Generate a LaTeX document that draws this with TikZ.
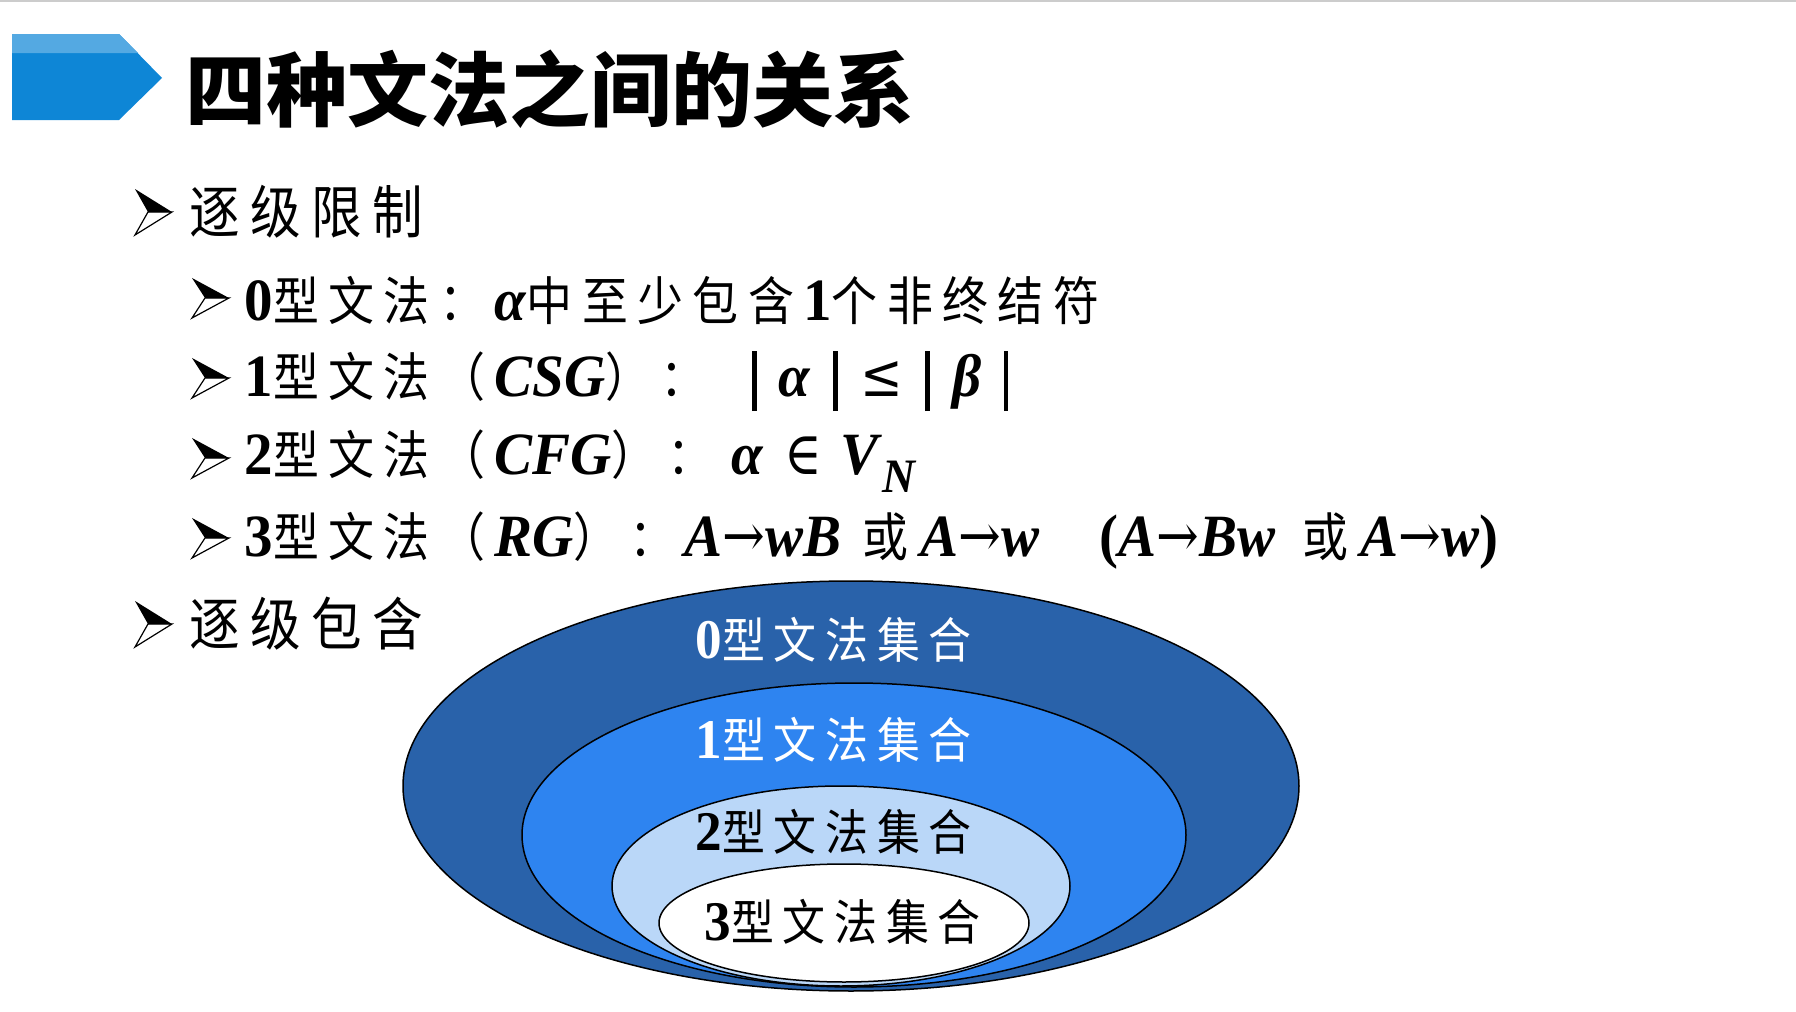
\documentclass[tikz,border=0pt]{standalone}
\usepackage{fontspec}
\setmainfont{Liberation Serif}[FakeStretch=0.95]
\newfontfamily\cjkfont{Noto Sans CJK SC}[Scale=0.87,FakeStretch=0.88,LetterSpace=18]
\newfontfamily\titlefont{Noto Sans CJK SC}
\newfontfamily\symfont{DejaVu Serif}[FakeStretch=0.85]
\newcommand{\zh}[1]{{\cjkfont #1}}
\newcommand{\bi}[1]{\textbf{\textit{#1}}}
\newcommand{\vbar}{\rule[-0.25em]{2.4pt}{1.0em}}
\newcommand{\arr}{{\symfont →}}
\newcommand{\gap}{\hspace{0.37em}}

\definecolor{bannerblue}{RGB}{14,134,214}
\definecolor{bannerlight}{RGB}{84,169,226}
\definecolor{setzero}{RGB}{41,98,170}
\definecolor{setone}{RGB}{46,132,240}
\definecolor{settwo}{RGB}{186,215,248}

\tikzset{every picture/.style={line width=0.75pt}}
\tikzset{
  pics/bulletarrow/.style={code={
    \draw[line width=0.6pt, fill=white] (0,-23) -- (37,0) -- (13,0) -- cycle;
    \fill (13,0) -- (37,0) -- (0,23) -- cycle;
  }},
  head/.style={anchor=west, inner sep=0pt, font=\fontsize{33}{40}\selectfont},
  item/.style={anchor=west, inner sep=0pt, font=\fontsize{30}{36}\selectfont},
  setlabel/.style={anchor=west, inner sep=0pt, font=\fontsize{28}{34}\selectfont},
}

\begin{document}
\begin{tikzpicture}[x=0.5pt,y=0.5pt,yscale=-1,xscale=1]
\useasboundingbox (0,0) rectangle (1796,1012);

%Shape: Line [top rule]
\draw [line width=1.2pt, color=black!20] (0,1) -- (1796,1);

%Shape: Banner
\fill [bannerblue] (12,34) -- (119,34) -- (162,78) -- (119,120) -- (12,120) -- cycle;
\fill [bannerlight] (12,34) -- (119,34) -- (138,53) -- (12,53) -- cycle;

% Text Node
\draw (185,89) node [anchor=west][inner sep=0pt] (title) {\titlefont\bfseries\fontsize{40.5}{48}\selectfont 四种文法之间的关系};

%Shape: Bullets
\pic at (135,212) {bulletarrow};
\pic [yscale=0.87] at (192,298) {bulletarrow};
\pic [yscale=0.87] at (192,378) {bulletarrow};
\pic [yscale=0.87] at (192,458) {bulletarrow};
\pic [yscale=0.87] at (192,538) {bulletarrow};
\pic at (135,624) {bulletarrow};

% Text Node
\draw (189,212) node [head] (limit) {\zh{逐级限制}};
% Text Node
\draw (244,300) node [item] (type0) {\textbf{0}\zh{型文法：}\bi{α}\zh{中至少包含}\textbf{1}\zh{个非终结符}};
% Text Node
\draw (244,381) node [item] (type1) {\textbf{1}\zh{型文法（}\bi{CSG}\zh{）：}\hspace{0.75em}\vbar\gap\bi{α}\gap\vbar\gap{\symfont ≤}\gap\vbar\gap\bi{β}\gap\vbar};
% Text Node
\draw (244,461) node [item] (type2) {\textbf{2}\zh{型文法（}\bi{CFG}\zh{）：}\hspace{0.15em}\bi{α}\hspace{0.35em}{\symfont ∈}\hspace{0.3em}\bi{V}\raisebox{-0.3em}{\fontsize{24}{28}\selectfont\bi{N}}};
% Text Node
\draw (244,541) node [item] (type3) {\textbf{3}\zh{型文法（}\bi{RG}\zh{）：}\bi{A}\arr\bi{wB}\hspace{0.35em}\zh{或}\hspace{0.05em}\bi{A}\arr\bi{w}\hspace{1.0em}\textbf{(}\bi{A}\arr\bi{Bw}\hspace{0.45em}\zh{或}\hspace{0.05em}\bi{A}\arr\bi{w}\textbf{)}};
% Text Node
\draw (189,624) node [head] (contain) {\zh{逐级包含}};

%Shape: Ellipse [type 0 set]
\draw [fill=setzero] (851,786) ellipse (448 and 205);
%Shape: Ellipse [type 1 set]
\draw [fill=setone] (854,835) ellipse (332 and 152);
%Shape: Ellipse [type 2 set]
\draw [fill=settwo] (841,886) ellipse (229 and 100);
%Shape: Ellipse [type 3 set]
\draw [fill=white] (844,923) ellipse (185 and 59);

% Text Node
\draw (695,640) node [setlabel, text=white] (set0) {\textbf{0}\zh{型文法集合}};
% Text Node
\draw (695,740) node [setlabel, text=white] (set1) {\textbf{1}\zh{型文法集合}};
% Text Node
\draw (695,832) node [setlabel] (set2) {\textbf{2}\zh{型文法集合}};
% Text Node
\draw (704,922) node [setlabel] (set3) {\textbf{3}\zh{型文法集合}};

\end{tikzpicture}
\end{document}
